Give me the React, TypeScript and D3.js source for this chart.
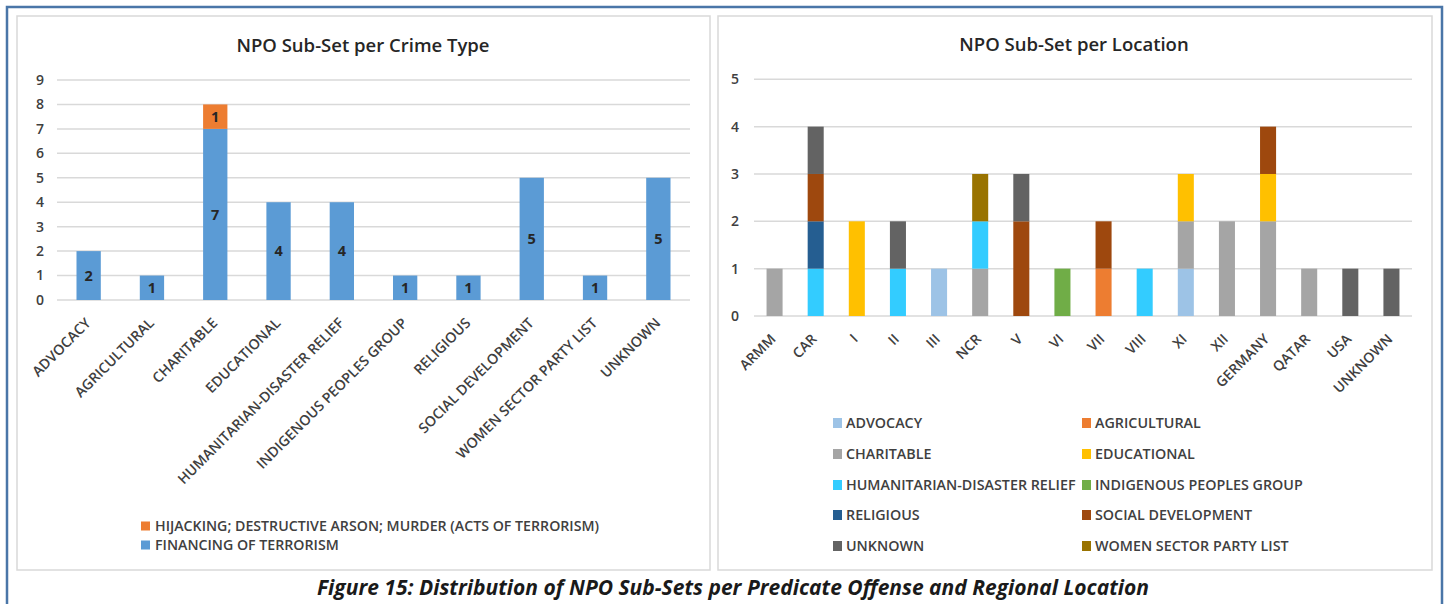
import React from 'react';
import * as d3 from 'd3';

// ---------- Left chart data ----------
const crimeCategories = [
  'ADVOCACY', 'AGRICULTURAL', 'CHARITABLE', 'EDUCATIONAL', 'HUMANITARIAN-DISASTER RELIEF',
  'INDIGENOUS PEOPLES GROUP', 'RELIGIOUS', 'SOCIAL DEVELOPMENT', 'WOMEN SECTOR PARTY LIST', 'UNKNOWN',
];
const financingValues = [2, 1, 7, 4, 4, 1, 1, 5, 1, 5];
const hijackingValues = [0, 0, 1, 0, 0, 0, 0, 0, 0, 0];
const crimeSeriesNames = ['HIJACKING; DESTRUCTIVE ARSON; MURDER (ACTS OF TERRORISM)', 'FINANCING OF TERRORISM'];
const crimeSeriesColors = ['#ED7D31', '#5B9BD5'];
const crimeTicks = [0, 1, 2, 3, 4, 5, 6, 7, 8, 9];

// ---------- Right chart data ----------
const locations = ['ARMM', 'CAR', 'I', 'II', 'III', 'NCR', 'V', 'VI', 'VII', 'VIII', 'XI', 'XII', 'GERMANY', 'QATAR', 'USA', 'UNKNOWN'];
const subsetNames = [
  'ADVOCACY', 'AGRICULTURAL', 'CHARITABLE', 'EDUCATIONAL', 'HUMANITARIAN-DISASTER RELIEF',
  'INDIGENOUS PEOPLES GROUP', 'RELIGIOUS', 'SOCIAL DEVELOPMENT', 'UNKNOWN', 'WOMEN SECTOR PARTY LIST',
];
const subsetColors = ['#9DC3E6', '#ED7D31', '#A5A5A5', '#FFC000', '#33CCFF', '#70AD47', '#255E91', '#9E480E', '#636363', '#997300'];
const advocacy = [0, 0, 0, 0, 1, 0, 0, 0, 0, 0, 1, 0, 0, 0, 0, 0];
const agricultural = [0, 0, 0, 0, 0, 0, 0, 0, 1, 0, 0, 0, 0, 0, 0, 0];
const charitable = [1, 0, 0, 0, 0, 1, 0, 0, 0, 0, 1, 2, 2, 1, 0, 0];
const educational = [0, 0, 2, 0, 0, 0, 0, 0, 0, 0, 1, 0, 1, 0, 0, 0];
const humanitarian = [0, 1, 0, 1, 0, 1, 0, 0, 0, 1, 0, 0, 0, 0, 0, 0];
const indigenous = [0, 0, 0, 0, 0, 0, 0, 1, 0, 0, 0, 0, 0, 0, 0, 0];
const religious = [0, 1, 0, 0, 0, 0, 0, 0, 0, 0, 0, 0, 0, 0, 0, 0];
const socialDevelopment = [0, 1, 0, 0, 0, 0, 2, 0, 1, 0, 0, 0, 1, 0, 0, 0];
const unknownSubset = [0, 1, 0, 1, 0, 0, 1, 0, 0, 0, 0, 0, 0, 0, 1, 1];
const womenSector = [0, 0, 0, 0, 0, 1, 0, 0, 0, 0, 0, 0, 0, 0, 0, 0];
const subsetValues = [advocacy, agricultural, charitable, educational, humanitarian, indigenous, religious, socialDevelopment, unknownSubset, womenSector];
const locationTicks = [0, 1, 2, 3, 4, 5];

const FONT = "'Open Sans', 'Liberation Sans', sans-serif";
const TXT = '#404040';
const GRID = '#D9D9D9';

function LeftChart() {
  const x = d3.scaleBand<string>().domain(crimeCategories).range([57, 690]).paddingInner(0.616).paddingOuter(0.308);
  const y = d3.scaleLinear().domain([0, 9]).range([300, 80]);
  const rows = crimeCategories.map((c, i) => ({ cat: c, fin: financingValues[i], hij: hijackingValues[i] }));
  const stack = d3.stack<any>().keys(['fin', 'hij'])(rows);
  const colorFor: Record<string, string> = { fin: crimeSeriesColors[1], hij: crimeSeriesColors[0] };
  return (
    <g>
      <rect x={17} y={16} width={693} height={554} fill="#fff" stroke="#D9D9D9" strokeWidth={1.5} />
      <text x={363} y={52} textAnchor="middle" fontFamily={FONT} fontSize={18.5} fontWeight={600} fill="#262626">NPO Sub-Set per Crime Type</text>
      {crimeTicks.map((t) => (
        <g key={t}>
          <line x1={57} x2={690} y1={y(t)} y2={y(t)} stroke={GRID} strokeWidth={1.5} />
          <text x={44} y={y(t)} dy="0.35em" textAnchor="end" fontFamily={FONT} fontSize={14} fontWeight={600} fill={TXT}>{t}</text>
        </g>
      ))}
      {stack.map((s) => (
        <g key={s.key} fill={colorFor[s.key]}>
          {s.map((d: any, i: number) => (d[1] - d[0] > 0 ? (
            <rect key={i} x={x(d.data.cat)} y={y(d[1])} width={x.bandwidth()} height={y(d[0]) - y(d[1])} />
          ) : null))}
        </g>
      ))}
      {stack.map((s) => (
        <g key={s.key + 'l'}>
          {s.map((d: any, i: number) => (d[1] - d[0] > 0 ? (
            <text key={i} x={(x(d.data.cat) as number) + x.bandwidth() / 2} y={y((d[0] + d[1]) / 2)} dy="0.35em" textAnchor="middle" fontFamily={FONT} fontSize={14.5} fontWeight={700} fill="#262626">{d[1] - d[0]}</text>
          ) : null))}
        </g>
      ))}
      {crimeCategories.map((c) => {
        const cx = (x(c) as number) + x.bandwidth() / 2 + 3;
        const cy = 324;
        return (
          <text key={c} x={cx} y={cy} transform={`rotate(-45 ${cx} ${cy})`} textAnchor="end" fontFamily={FONT} fontSize={14.2} fontWeight={600} fill={TXT}>{c}</text>
        );
      })}
      {crimeSeriesNames.map((n, i) => (
        <g key={n}>
          <rect x={141} y={[526, 545][i] - 4.5} width={9} height={9} fill={crimeSeriesColors[i]} />
          <text x={155} y={[526, 545][i]} dy="0.35em" fontFamily={FONT} fontSize={14.2} fontWeight={600} fill={TXT}>{n}</text>
        </g>
      ))}
    </g>
  );
}

function RightChart() {
  const x = d3.scaleBand<string>().domain(locations).range([754, 1412]).paddingInner(0.61).paddingOuter(0.305);
  const y = d3.scaleLinear().domain([0, 5]).range([316, 79.3]);
  const rows = locations.map((loc, i) => {
    const r: any = { loc };
    subsetNames.forEach((n, k) => { r[n] = subsetValues[k][i]; });
    return r;
  });
  const stack = d3.stack<any>().keys(subsetNames)(rows);
  const legendRows = [423, 454, 485, 515, 546];
  return (
    <g>
      <rect x={718} y={16} width={714} height={554} fill="#fff" stroke="#D9D9D9" strokeWidth={1.5} />
      <text x={1074} y={51} textAnchor="middle" fontFamily={FONT} fontSize={18.5} fontWeight={600} fill="#262626">NPO Sub-Set per Location</text>
      {locationTicks.map((t) => (
        <g key={t}>
          <line x1={754} x2={1412} y1={y(t)} y2={y(t)} stroke={GRID} strokeWidth={1.5} />
          <text x={739} y={y(t)} dy="0.35em" textAnchor="end" fontFamily={FONT} fontSize={14} fontWeight={600} fill={TXT}>{t}</text>
        </g>
      ))}
      {stack.map((s, k) => (
        <g key={s.key} fill={subsetColors[k]}>
          {s.map((d: any, i: number) => (d[1] - d[0] > 0 ? (
            <rect key={i} x={x(d.data.loc)} y={y(d[1])} width={x.bandwidth()} height={y(d[0]) - y(d[1])} />
          ) : null))}
        </g>
      ))}
      {locations.map((c) => {
        const cx = (x(c) as number) + x.bandwidth() / 2 + 2;
        const cy = 340;
        return (
          <text key={c} x={cx} y={cy} transform={`rotate(-45 ${cx} ${cy})`} textAnchor="end" fontFamily={FONT} fontSize={14} fontWeight={600} fill={TXT}>{c}</text>
        );
      })}
      {subsetNames.map((n, k) => {
        const col = k % 2;
        const row = Math.floor(k / 2);
        const sx = col === 0 ? 833 : 1082;
        const ty = legendRows[row];
        return (
          <g key={n}>
            <rect x={sx} y={ty - 5} width={9} height={10} fill={subsetColors[k]} />
            <text x={sx + 13} y={ty} dy="0.35em" fontFamily={FONT} fontSize={14.3} fontWeight={600} fill={TXT}>{n}</text>
          </g>
        );
      })}
    </g>
  );
}

export default function App() {
  return (
    <svg width={1447} height={604} style={{ position: 'absolute', left: 0, top: 0, background: '#fff' }}>
      <rect x={0} y={0} width={1447} height={604} fill="#fff" />
      <path d="M7 610 V7 H1442 V610" fill="none" stroke="#4A76A8" strokeWidth={2.5} />
      <LeftChart />
      <RightChart />
      <text x={733} y={595} textAnchor="middle" fontFamily={FONT} fontSize={21} fontWeight={700} fontStyle="italic" fill="#1a1a1a">Figure 15: Distribution of NPO Sub-Sets per Predicate Offense and Regional Location</text>
    </svg>
  );
}
